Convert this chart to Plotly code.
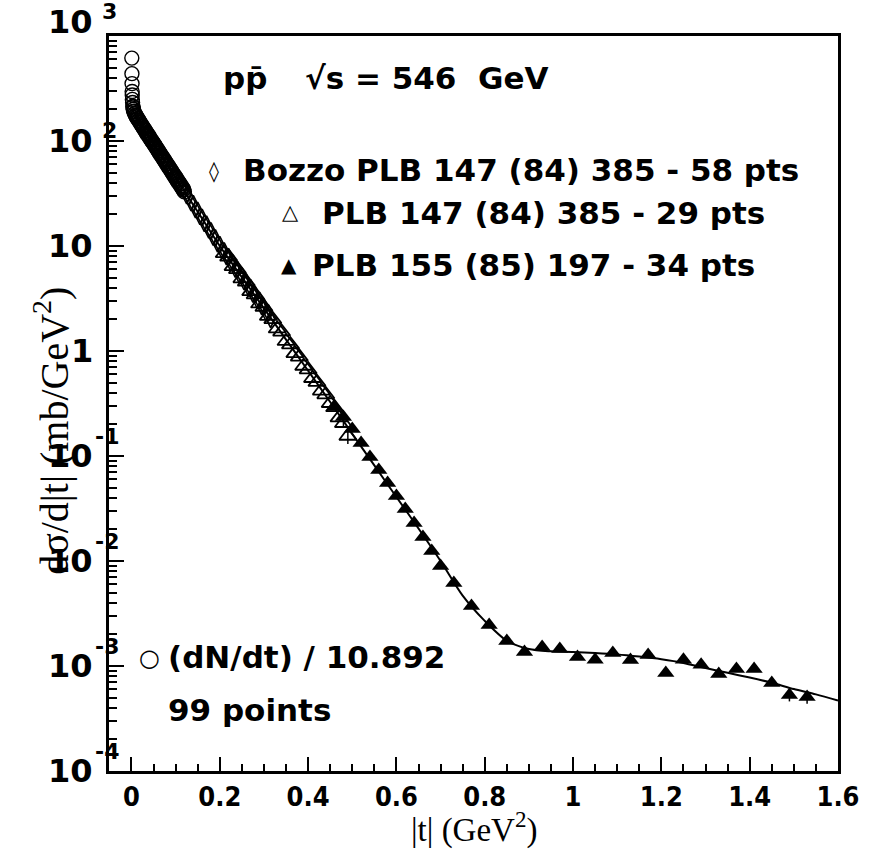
import plotly.graph_objects as go

# ---------------- data ----------------
# (dN/dt)/10.892 : 99 points (open circles)
circ_t = [0.00075, 0.001, 0.00125, 0.0015, 0.00175, 0.002, 0.0025, 0.003, 0.0035, 0.004,
          0.0045, 0.005, 0.006, 0.007, 0.008, 0.009, 0.010, 0.011, 0.012, 0.013,
          0.0145, 0.0159, 0.0172, 0.0186, 0.0199, 0.0213, 0.0226, 0.0240, 0.0253, 0.0267,
          0.0280, 0.0294, 0.0307, 0.0321, 0.0334, 0.0348, 0.0361, 0.0375, 0.0388, 0.0402,
          0.0415, 0.0429, 0.0442, 0.0456, 0.0469, 0.0483, 0.0496, 0.0510, 0.0523, 0.0537,
          0.0550, 0.0564, 0.0577, 0.0591, 0.0604, 0.0618, 0.0631, 0.0645, 0.0658, 0.0672,
          0.0685, 0.0699, 0.0712, 0.0726, 0.0739, 0.0753, 0.0766, 0.0780, 0.0793, 0.0807,
          0.0820, 0.0834, 0.0847, 0.0861, 0.0874, 0.0888, 0.0901, 0.0915, 0.0928, 0.0942,
          0.0955, 0.0969, 0.0982, 0.0996, 0.1009, 0.1023, 0.1036, 0.1050, 0.1063, 0.1077,
          0.1090, 0.1104, 0.1117, 0.1131, 0.1144, 0.1158, 0.1171, 0.1185, 0.1198]
circ_v = [616, 438, 352, 296, 274, 249, 233, 214, 211, 200,
          201, 192, 191, 183, 182, 176, 175, 169, 170, 164,
          163, 157, 157, 151, 150, 144, 144, 139, 138, 133,
          132, 130, 125, 125, 120, 120, 115, 115, 111, 111,
          106, 106, 102, 102, 98.5, 98.0, 94.6, 94.2, 90.8, 90.5,
          87.1, 86.9, 83.8, 83.4, 80.3, 80.1, 77.0, 77.0, 74.0, 73.8,
          71.0, 71.0, 68.2, 68.3, 65.5, 65.6, 63.0, 63.0, 60.4, 60.5,
          58.0, 58.1, 55.6, 55.8, 53.4, 53.6, 51.3, 51.5, 49.2, 49.5,
          47.2, 47.5, 45.3, 45.6, 43.5, 43.9, 41.8, 42.2, 40.1, 40.6,
          38.6, 38.9, 37.0, 37.4, 35.6, 35.9, 34.1, 34.6, 32.8]

# Bozzo PLB 147 (84) 385 - 58 pts (open diamonds)
dia_t = [0.030, 0.035, 0.040, 0.045, 0.050, 0.055, 0.060, 0.065, 0.070, 0.075,
         0.080, 0.085, 0.090, 0.095, 0.100, 0.105, 0.110, 0.115, 0.120, 0.125,
         0.130, 0.135, 0.140, 0.145, 0.150, 0.155, 0.160, 0.165, 0.170, 0.175,
         0.180, 0.185, 0.190, 0.195, 0.200, 0.205, 0.210, 0.215, 0.220, 0.225,
         0.230, 0.235, 0.240, 0.245, 0.250, 0.255, 0.260, 0.265, 0.270, 0.275,
         0.280, 0.285, 0.290, 0.295, 0.300, 0.305, 0.310, 0.315]
dia_v = [130, 116, 111, 100, 96.5, 86.5, 83.0, 74.5, 71.4, 64.0,
         61.6, 55.0, 53.1, 47.4, 45.8, 40.8, 39.3, 35.1, 34.0, 30.2,
         29.3, 26.0, 25.2, 22.3, 21.8, 19.2, 18.7, 16.5, 16.1, 14.3,
         13.9, 12.2, 11.9, 10.5, 10.3, 9.10, 8.98, 7.95, 7.84, 6.92,
         6.84, 6.05, 5.98, 5.25, 5.21, 4.58, 4.55, 4.00, 3.97, 3.49,
         3.46, 3.04, 3.02, 2.65, 2.64, 2.31, 2.30, 2.01]

# PLB 147 (84) 385 - 29 pts (open triangles)
otri_t = [0.21, 0.22, 0.23, 0.24, 0.25, 0.26, 0.27, 0.28, 0.29, 0.30,
          0.31, 0.32, 0.33, 0.34, 0.35, 0.36, 0.37, 0.38, 0.39, 0.40,
          0.41, 0.42, 0.43, 0.44, 0.45, 0.46, 0.47, 0.48, 0.49]
otri_v = [8.5, 7.9, 6.4, 6.0, 4.9, 4.55, 3.7, 3.45, 2.82, 2.62,
          2.15, 2.0, 1.63, 1.52, 1.24, 1.15, 0.95, 0.88, 0.72, 0.665,
          0.55, 0.505, 0.418, 0.385, 0.318, 0.29, 0.232, 0.205, 0.155]
otri_err = [0, 0, 0, 0, 0, 0, 0, 0, 0, 0,
            0, 0, 0, 0, 0, 0, 0, 0, 0, 0,
            0, 0, 0, 0, 0, 0, 0, 0.02, 0.025]

# PLB 155 (85) 197 - 34 pts (filled triangles)
ftri_t = [0.46, 0.48, 0.50, 0.52, 0.54, 0.56, 0.58, 0.60, 0.62, 0.64,
          0.66, 0.68, 0.70, 0.73, 0.77, 0.81, 0.85, 0.89, 0.93, 0.97,
          1.01, 1.05, 1.09, 1.13, 1.17, 1.21, 1.25, 1.29, 1.33, 1.37,
          1.41, 1.45, 1.49, 1.53]
ftri_v = [0.293, 0.235, 0.181, 0.133, 0.0977, 0.0736, 0.0553, 0.0416, 0.0313, 0.0230,
          0.0169, 0.01245, 0.00896, 0.00617, 0.00373, 0.00246, 0.00173, 0.00136, 0.00152, 0.00145,
          0.00122, 0.00115, 0.00133, 0.00114, 0.00127, 0.000857, 0.00115, 0.00103, 0.000839, 0.000936,
          0.000936, 0.000689, 0.000530, 0.000507]
ftri_err = [0, 0, 0, 0, 0, 0, 0, 0, 0, 0,
            0, 0, 0, 0, 0, 0, 0, 0, 0, 0,
            0, 0, 0, 0, 0, 0, 0, 0, 0, 0,
            0, 0, 0.00007, 0.00007]

# fitted curve
fit_t = [0.0, 0.05, 0.1, 0.15, 0.2, 0.25, 0.3, 0.35, 0.4, 0.45,
         0.5, 0.55, 0.6, 0.65, 0.7, 0.75, 0.8, 0.85, 0.9, 0.95,
         1.0, 1.05, 1.1, 1.15, 1.2, 1.25, 1.3, 1.35, 1.4, 1.45,
         1.5, 1.55, 1.6]
fit_v = [200, 94.6, 44.8, 21.2, 10.0, 5.05, 2.55, 1.285, 0.649, 0.327,
         0.163, 0.0813, 0.0407, 0.0204, 0.0100, 0.00468, 0.00269, 0.00174, 0.00145, 0.00138,
         0.00136, 0.00133, 0.00129, 0.00123, 0.00116, 0.00107, 0.000955, 0.000861, 0.000776, 0.000692,
         0.000603, 0.000537, 0.000468]

x_ticks = [0, 0.2, 0.4, 0.6, 0.8, 1.0, 1.2, 1.4, 1.6]
x_ticktext = ["0", "0.2", "0.4", "0.6", "0.8", "1", "1.2", "1.4", "1.6"]
y_exps = [-4, -3, -2, -1, 0, 1, 2, 3]

# ---------------- figure ----------------
fig = go.Figure()
fig.add_trace(go.Scatter(x=fit_t, y=fit_v, mode="lines",
                         line=dict(color="black", width=2, shape="spline", smoothing=0.8)))
fig.add_trace(go.Scatter(x=circ_t, y=circ_v, mode="markers",
                         marker=dict(symbol="circle-open", size=14, color="black",
                                     line=dict(width=1.4, color="black"))))
fig.add_trace(go.Scatter(x=dia_t, y=dia_v, mode="markers",
                         marker=dict(symbol="diamond-tall-open", size=12, color="black",
                                     line=dict(width=1.6, color="black"))))
fig.add_trace(go.Scatter(x=otri_t, y=otri_v, mode="markers",
                         error_y=dict(type="data", array=otri_err, color="black", width=0, thickness=1.5),
                         marker=dict(symbol="triangle-up-open", size=15, color="black",
                                     line=dict(width=1.8, color="black"))))
fig.add_trace(go.Scatter(x=ftri_t, y=ftri_v, mode="markers",
                         error_y=dict(type="data", array=ftri_err, color="black", width=0, thickness=1.5),
                         marker=dict(symbol="triangle-up", size=15, color="black")))

minor_y = [m * 10.0 ** e for e in range(-4, 3) for m in range(2, 10)]

fig.update_xaxes(range=[-0.0509, 1.6], showgrid=False, zeroline=False,
                 showline=True, linewidth=2.5, linecolor="black", mirror=True,
                 ticks="inside", ticklen=14, tickwidth=1.5, tickcolor="black",
                 tickvals=x_ticks, ticktext=x_ticktext,
                 tickfont=dict(family="Liberation Sans Narrow, DejaVu Sans Condensed, Liberation Sans",
                               size=27, color="black", weight="bold"),
                 ticklabelstandoff=0,
                 minor=dict(ticks="inside", ticklen=7, tickwidth=1.5, tickcolor="black",
                            dtick=0.05, tick0=0, showgrid=False))
fig.update_yaxes(type="log", range=[-4, 3], showgrid=False, zeroline=False,
                 showline=True, linewidth=2.5, linecolor="black", mirror=True,
                 ticks="inside", ticklen=15, tickwidth=1.5, tickcolor="black",
                 tickvals=[10.0 ** e for e in y_exps], showticklabels=False,
                 minor=dict(ticks="inside", ticklen=8, tickwidth=1.5, tickcolor="black",
                            tickvals=minor_y, showgrid=False))

ann = []
LAB = dict(family="DejaVu Sans", size=32, color="black", weight="bold")
EXP = dict(family="DejaVu Sans", size=22, color="black", weight="bold")
for e in y_exps:
    ys = 14 if e == 3 else 0
    txt = "1" if e == 0 else "10"
    ann.append(dict(text=txt, xref="paper", yref="y", x=-0.019, y=e, xanchor="right",
                    yanchor="middle", yshift=ys, showarrow=False, font=LAB))
    if e not in (0, 1):
        if e < 0:
            ann.append(dict(text=str(e), xref="paper", yref="y", x=-0.022, y=e, xanchor="left",
                            yanchor="middle", yshift=20, showarrow=False, font=EXP))
        else:
            ann.append(dict(text=str(e), xref="paper", yref="y", x=-0.012, y=e, xanchor="left",
                            yanchor="middle", yshift=ys + 11, showarrow=False, font=EXP))

TXT = dict(family="DejaVu Sans", size=31, color="black", weight="bold")
ann += [
    dict(text="pp\u0304", xref="paper", yref="paper", x=0.153, y=0.943, xanchor="left",
         yanchor="middle", showarrow=False, font=TXT),
    dict(text="\u221as = 546  GeV", xref="paper", yref="paper", x=0.266, y=0.943, xanchor="left",
         yanchor="middle", showarrow=False, font=TXT),
    dict(text="\u25ca", xref="paper", yref="paper", x=0.1438, y=0.8163, xanchor="center",
         yanchor="middle", showarrow=False, font=dict(family="DejaVu Sans", size=20, color="black")),
    dict(text="Bozzo PLB 147 (84) 385 - 58 pts", xref="paper", yref="paper", x=0.1805, y=0.8177,
         xanchor="left", yanchor="middle", showarrow=False, font=TXT),
    dict(text="\u25b3", xref="paper", yref="paper", x=0.2483, y=0.7605, xanchor="center",
         yanchor="middle", showarrow=False, font=dict(family="DejaVu Sans", size=21, color="black")),
    dict(text="PLB 147 (84) 385 - 29 pts", xref="paper", yref="paper", x=0.289, y=0.7592,
         xanchor="left", yanchor="middle", showarrow=False, font=TXT),
    dict(text="\u25b2", xref="paper", yref="paper", x=0.247, y=0.6884, xanchor="center",
         yanchor="middle", showarrow=False, font=dict(family="DejaVu Sans", size=20, color="black")),
    dict(text="PLB 155 (85) 197 - 34 pts", xref="paper", yref="paper", x=0.2754, y=0.6884,
         xanchor="left", yanchor="middle", showarrow=False, font=TXT),
    dict(text="\u25cb", xref="paper", yref="paper", x=0.0556, y=0.1537, xanchor="center",
         yanchor="middle", showarrow=False, font=dict(family="DejaVu Sans", size=24, color="black")),
    dict(text="(dN/dt) / 10.892", xref="paper", yref="paper", x=0.0787, y=0.1551,
         xanchor="left", yanchor="middle", showarrow=False, font=TXT),
    dict(text="99 points", xref="paper", yref="paper", x=0.0787, y=0.083,
         xanchor="left", yanchor="middle", showarrow=False, font=TXT),
    dict(text="d\u03c3/d|t| (mb/GeV<sup>2</sup>)", xref="paper", yref="paper", x=-0.078, y=0.463,
         xanchor="center", yanchor="middle", textangle=-90, showarrow=False,
         font=dict(family="Liberation Serif", size=40, color="black")),
    dict(text="|t| (GeV<sup>2</sup>)", xref="paper", yref="paper", x=0.5007, y=-0.0765,
         xanchor="center", yanchor="middle", showarrow=False,
         font=dict(family="Liberation Serif", size=33, color="black")),
]

fig.update_layout(width=872, height=850, margin=dict(l=109, r=26, t=36, b=79),
                  paper_bgcolor="white", plot_bgcolor="white", showlegend=False,
                  annotations=ann)

fig.write_html("out.html")
